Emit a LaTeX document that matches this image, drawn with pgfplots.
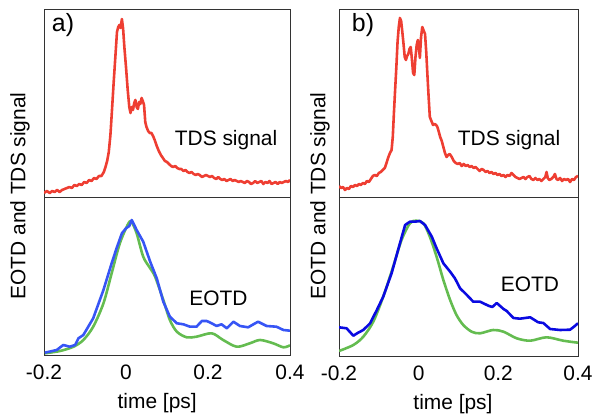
\documentclass[border=0pt]{standalone}
\usepackage{fontspec}
\setmainfont{Liberation Sans}
\usepackage{pgfplots}
\pgfplotsset{compat=1.18}
\definecolor{tdsred}{RGB}{238,62,50}
\definecolor{fitgreen}{RGB}{100,188,80}
\definecolor{eoblueA}{RGB}{55,85,245}
\definecolor{eoblueB}{RGB}{10,10,225}

\pgfplotstableread{
t v
-0.200 4
-0.193 6
-0.186 4
-0.180 6
-0.174 5
-0.168 7
-0.162 5
-0.156 7
-0.150 8
-0.144 9
-0.138 10
-0.132 9
-0.126 12
-0.120 11
-0.114 13
-0.108 12
-0.102 15
-0.096 14
-0.090 17
-0.084 16
-0.078 19
-0.072 18
-0.066 21
-0.060 21
-0.054 25
-0.050 30
-0.046 36
-0.042 45
-0.038 62
-0.034 88
-0.030 115
-0.026 140
-0.022 165
-0.019 170
-0.016 172
-0.013 169
-0.010 178
-0.007 168
-0.004 150
0.000 130
0.004 108
0.008 90
0.011 84
0.014 90
0.017 87
0.020 94
0.023 97
0.026 90
0.029 88
0.032 95
0.035 93
0.038 99
0.041 96
0.044 92
0.047 75
0.050 70
0.054 66
0.058 64
0.062 64
0.066 61
0.070 57
0.075 51
0.080 46
0.085 42
0.090 39
0.095 36
0.100 35
0.105 33
0.110 31
0.115 30
0.120 31
0.125 29
0.130 28
0.135 28
0.140 26
0.145 27
0.150 25
0.155 24
0.160 25
0.165 23
0.170 22
0.175 23
0.180 22
0.185 20
0.190 21
0.195 22
0.200 21
0.205 20
0.210 21
0.215 19
0.220 18
0.225 20
0.230 18
0.235 17
0.240 18
0.245 16
0.250 17
0.255 18
0.260 16
0.265 17
0.270 16
0.275 15
0.280 16
0.285 15
0.290 14
0.295 16
0.300 15
0.305 13
0.310 14
0.315 16
0.320 14
0.325 15
0.330 16
0.335 13
0.340 15
0.345 14
0.350 16
0.355 13
0.360 14
0.365 15
0.370 13
0.375 15
0.380 14
0.385 15
0.390 16
0.395 15
0.400 17
}\tdsA

\pgfplotstableread{
t v
-0.198 1.7
-0.161 4
-0.128 8.3
-0.104 15
-0.080 28.3
-0.055 51.7
-0.035 81.7
-0.015 111.7
0.006 131.7
0.014 132.7
0.026 121.7
0.042 98.3
0.059 86.7
0.071 78.3
0.091 55
0.107 35
0.124 23.3
0.148 17.7
0.172 18.3
0.209 21.7
0.237 15
0.270 8.3
0.302 11.7
0.327 15
0.359 11.7
0.384 7.7
0.400 9.7
}\fitA

\pgfplotstableread{
t v
-0.198 2.3
-0.169 5
-0.153 10
-0.137 8.3
-0.124 10
-0.116 16.7
-0.104 20
-0.080 36.7
-0.055 65
-0.035 91.7
-0.023 106.7
-0.010 121.7
0.000 126.7
0.008 129
0.014 135
0.026 125
0.042 113.3
0.059 93.3
0.075 76.7
0.091 53.3
0.107 38.3
0.124 31.7
0.140 30.7
0.156 28.3
0.172 28.3
0.185 34
0.197 34
0.209 31.7
0.221 29
0.233 30.7
0.246 26.7
0.262 33.3
0.278 29
0.298 27.7
0.322 33.3
0.343 29
0.367 28.3
0.384 25
0.400 24.3
}\eoA

\pgfplotstableread{
t v
-0.200 11
-0.195 9
-0.190 10
-0.185 7
-0.180 9
-0.175 8
-0.170 11
-0.165 10
-0.160 12
-0.155 11
-0.150 13
-0.145 12
-0.140 14
-0.135 13
-0.130 16
-0.125 15
-0.120 18
-0.115 21
-0.110 22
-0.105 21
-0.100 24
-0.095 25
-0.090 27
-0.085 29
-0.080 35
-0.076 40
-0.072 44
-0.068 47
-0.065 60
-0.062 85
-0.059 108
-0.056 130
-0.053 155
-0.050 170
-0.047 179
-0.044 176
-0.041 165
-0.038 153
-0.035 140
-0.032 137
-0.029 141
-0.026 143
-0.023 148
-0.020 150
-0.017 138
-0.014 124
-0.011 122
-0.008 140
-0.005 152
-0.002 157
0.001 148
0.003 139
0.006 160
0.009 170
0.012 167
0.016 163
0.019 145
0.022 122
0.025 100
0.028 80
0.032 76
0.036 72
0.040 73
0.044 72
0.047 70
0.050 66
0.054 60
0.058 56
0.062 50
0.066 44
0.070 40
0.074 42
0.078 43
0.083 40
0.088 36
0.093 34
0.098 33
0.103 34
0.108 31
0.113 33
0.118 31
0.123 32
0.128 30
0.133 31
0.138 29
0.143 30
0.148 28
0.153 26
0.158 28
0.163 27
0.168 25
0.173 26
0.178 24
0.183 25
0.188 23
0.193 24
0.198 22
0.203 23
0.208 21
0.213 22
0.218 20
0.223 22
0.228 21
0.233 24
0.238 22
0.243 20
0.248 19
0.253 18
0.258 19
0.263 20
0.268 18
0.273 20
0.278 21
0.283 18
0.288 17
0.293 19
0.298 17
0.303 18
0.308 16
0.313 18
0.318 20
0.321 25
0.324 19
0.328 17
0.333 18
0.338 20
0.342 23
0.346 18
0.350 17
0.355 19
0.360 16
0.365 18
0.370 17
0.375 18
0.380 15
0.385 18
0.390 17
0.395 20
0.400 21
}\tdsB

\pgfplotstableread{
t v
-0.200 5
-0.164 11
-0.139 19.3
-0.114 34.3
-0.089 59.3
-0.064 89.3
-0.043 116
-0.022 132.7
-0.006 135.3
0.012 132.7
0.028 119.3
0.045 99.3
0.062 76
0.079 56
0.095 41
0.112 31
0.133 24.3
0.154 22.7
0.187 26
0.213 24.3
0.246 17.7
0.280 15.3
0.321 18.7
0.363 15.3
0.400 13.3
}\fitB

\pgfplotstableread{
t v
-0.200 28.7
-0.181 27.7
-0.164 20.3
-0.152 23.3
-0.139 26
-0.122 32.7
-0.105 46
-0.089 59.3
-0.068 82.7
-0.047 112.7
-0.034 131
-0.022 134.3
-0.010 134.3
0.003 135
0.016 131
0.033 119.3
0.045 107.7
0.062 92.7
0.079 84.3
0.091 77.7
0.104 67.7
0.121 61
0.137 54.3
0.154 54.3
0.175 50.3
0.185 49
0.196 53
0.213 47
0.221 45
0.238 38
0.254 37.3
0.280 38.7
0.300 33.7
0.313 33
0.330 27
0.355 26
0.380 26.3
0.388 28.7
0.400 32.7
}\eoB

\begin{document}
\fontsize{21}{24}\selectfont
\begin{tikzpicture}
\pgfplotsset{
  panel/.style={
    scale only axis, anchor=south west,
    xmin=-0.2, xmax=0.4,
    ytick=\empty,
    axis line style={line width=0.8pt, black!80},
    every axis plot/.append style={line width=2.6pt, line join=round},
    major tick length=0pt,
  },
  toppanel/.style={panel, ymin=0, ymax=188, height=188bp, xtick=\empty},
  botpanel/.style={panel, ymin=0, ymax=158, height=158bp,
    xtick={-0.2,0,0.2,0.4}, xticklabels={-0.2,0,0.2,0.4},
    xticklabel style={font=\fontsize{21}{24}\selectfont, yshift=-3bp},
    xlabel={time [ps]},
    xlabel style={font=\fontsize{21}{24}\selectfont},
  },
}
\path[use as bounding box] (0,0) rectangle (592bp,416bp);

% panel a
\begin{axis}[toppanel, at={(44bp,219bp)}, width=246bp]
\addplot[tdsred] table[x=t,y=v] {\tdsA};
\node[anchor=center] at (axis cs:0.244,57) {TDS signal};
\end{axis}
\begin{axis}[botpanel, at={(44bp,61bp)}, width=246bp,
  xlabel style={at={(axis description cs:0.46,0)}, anchor=north, yshift=-31bp}]
\addplot[fitgreen, smooth, tension=0.5] table[x=t,y=v] {\fitA};
\addplot[eoblueA] table[x=t,y=v] {\eoA};
\node[anchor=center] at (axis cs:0.2256,57) {EOTD};
\end{axis}

% panel b
\begin{axis}[toppanel, at={(339bp,219bp)}, width=239bp]
\addplot[tdsred] table[x=t,y=v] {\tdsB};
\node[anchor=center] at (axis cs:0.227,57) {TDS signal};
\end{axis}
\begin{axis}[botpanel, at={(339bp,60bp)}, width=239bp, ymax=159, height=159bp,
  xlabel style={at={(axis description cs:0.477,0)}, anchor=north, yshift=-31bp}]
\addplot[fitgreen, smooth, tension=0.5] table[x=t,y=v] {\fitB};
\addplot[eoblueB] table[x=t,y=v] {\eoB};
\node[anchor=center] at (axis cs:0.2795,72) {EOTD};
\end{axis}

\node[rotate=90] at (20bp,220bp) {EOTD and TDS signal};
\node[rotate=90] at (320bp,220bp) {EOTD and TDS signal};
\node[font=\fontsize{25}{28}\selectfont] at (63bp,391bp) {a)};
\node[font=\fontsize{25}{28}\selectfont] at (363bp,391bp) {b)};
\end{tikzpicture}
\end{document}
